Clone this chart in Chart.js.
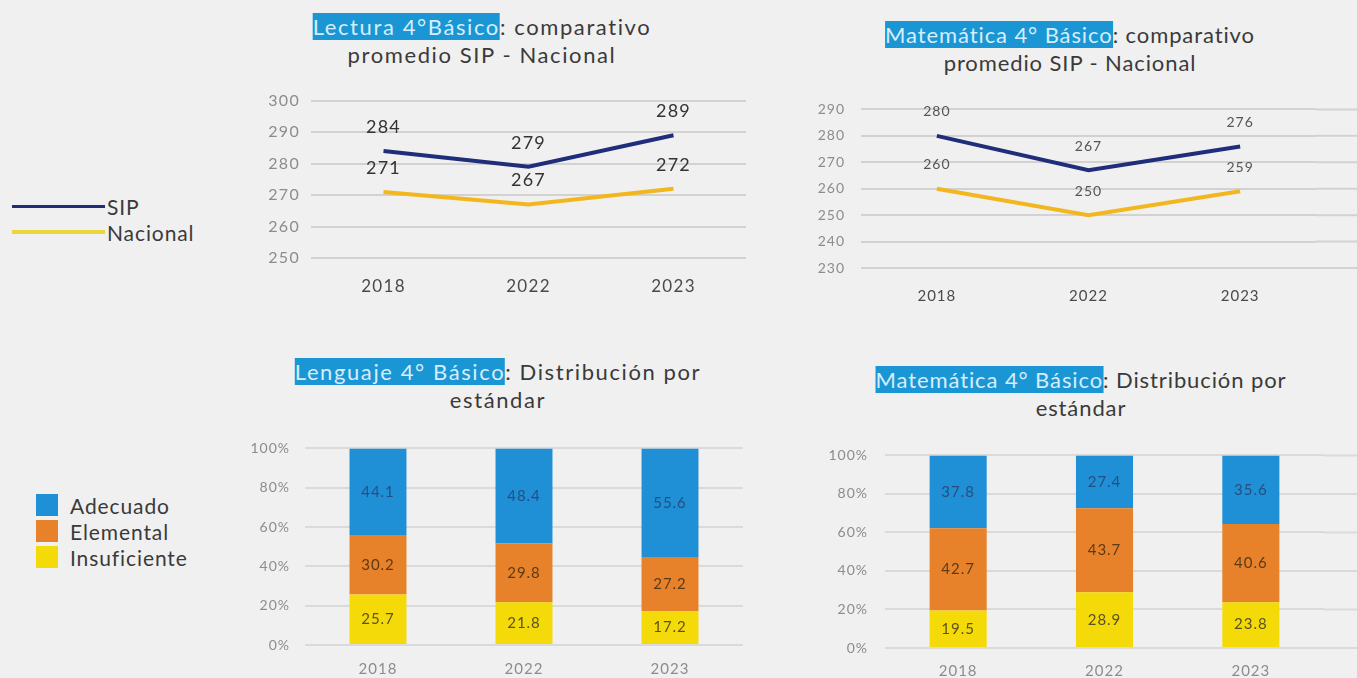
<!DOCTYPE html>
<html lang="es">
<head>
  <meta charset="UTF-8">
  <title>SIP 4° Básico - Resultados</title>
  <script src="https://cdn.jsdelivr.net/npm/chart.js"></script>
  <style>
    body {
      margin: 0;
      background: #f0f0f0;
      font-family: Lato, "Open Sans", sans-serif;
      color: #333;
    }
    .page {
      position: relative;
      width: 1357px;
      height: 678px;
      overflow: hidden;
    }
    .box { position: absolute; }
    .title {
      position: absolute;
      transform: translateX(-50%);
      text-align: center;
      font-size: 22px;
      letter-spacing: 1.6px;
      line-height: 28px;
      color: #3a3a3a;
      white-space: nowrap;
    }
    .title.tight { letter-spacing: 0.9px; }
    .hl { background: #1b96d4; color: #d6edfb; }
    .legend { position: absolute; font-size: 21px; letter-spacing: 0.9px; color: #3a3a3a; }
    .legend .row { display: flex; align-items: center; height: 26px; }
    .legend .line { width: 93px; margin-right: 2px; }
    .legend .sq { width: 22px; height: 22px; margin-right: 12px; }
  </style>
</head>
<body>
<div class="page">
  <!-- titles -->
  <div class="title" style="left:482px; top:13px;"><span class="hl">Lectura 4°Básico</span>: comparativo<br>promedio SIP - Nacional</div>
  <div class="title tight" style="left:1070px; top:21px;"><span class="hl">Matemática 4° Básico</span>: comparativo<br>promedio SIP - Nacional</div>
  <div class="title" style="left:498px; top:358px;"><span class="hl">Lenguaje 4° Básico</span>: Distribución por<br>estándar</div>
  <div class="title tight" style="left:1081px; top:366px;"><span class="hl">Matemática 4° Básico</span>: Distribución por<br>estándar</div>

  <!-- legends -->
  <div class="legend" style="left:12px; top:193px;">
    <div class="row"><div class="line" style="height:3px;background:#1f2d7b"></div>SIP</div>
    <div class="row"><div class="line" style="height:4px;background:#ecd63c"></div>Nacional</div>
  </div>
  <div class="legend" style="left:36px; top:492px;">
    <div class="row"><div class="sq" style="background:#1f8fd6"></div>Adecuado</div>
    <div class="row"><div class="sq" style="background:#e8822a"></div>Elemental</div>
    <div class="row"><div class="sq" style="background:#f5da0a"></div>Insuficiente</div>
  </div>

  <div class="box" style="left:240px; top:80px; width:510px; height:220px;"><canvas id="lectura"></canvas></div>
  <div class="box" style="left:790px; top:85px; width:567px; height:235px;"><canvas id="mateProm"></canvas></div>
  <div class="box" style="left:230px; top:425px; width:520px; height:253px;"><canvas id="lenguaje"></canvas></div>
  <div class="box" style="left:800px; top:430px; width:557px; height:248px;"><canvas id="mateDist"></canvas></div>
</div>

<script>
  // data
  const years = ['2018', '2022', '2023'];

  const lecturaSIP = [284, 279, 289];
  const lecturaNacional = [271, 267, 272];
  const mateSIP = [280, 267, 276];
  const mateNacional = [260, 250, 259];

  const lengAdecuado = [44.1, 48.4, 55.6];
  const lengElemental = [30.2, 29.8, 27.2];
  const lengInsuficiente = [25.7, 21.8, 17.2];

  const mateAdecuado = [37.8, 27.4, 35.6];
  const mateElemental = [42.7, 43.7, 40.6];
  const mateInsuficiente = [19.5, 28.9, 23.8];

  const NAVY = '#1f2d7b', GOLD = '#f2b61f';
  const BLUE = '#1f8fd6', ORANGE = '#e8822a', YELLOW = '#f5da0a';
  const GRID = '#d2d2d2';

  // wider lettering, the original font is much wider than Lato
  const spacing = {
    id: 'spacing',
    beforeDraw(chart, args, opts) {
      chart.ctx.letterSpacing = opts.px || '0px';
    }
  };

  // draws the numbers on the points / inside the bars
  const valueLabels = {
    id: 'valueLabels',
    afterDatasetsDraw(chart, args, opts) {
      const ctx = chart.ctx;
      const isBar = chart.config.type === 'bar';
      chart.data.datasets.forEach((ds, i) => {
        chart.getDatasetMeta(i).data.forEach((el, j) => {
          const y = isBar ? (el.y + el.base) / 2 : el.y - opts.offset;
          ctx.save();
          ctx.font = opts.font;
          ctx.fillStyle = ds.labelColor || opts.color;
          ctx.textAlign = 'center';
          ctx.textBaseline = 'middle';
          ctx.fillText(String(ds.data[j]), el.x, y);
          ctx.restore();
        });
      });
    }
  };

  // grid lines in the reference run on past the last category
  const gridExtend = {
    id: 'gridExtend',
    beforeDatasetsDraw(chart, args, opts) {
      if (!opts.to) return;
      const sy = chart.scales.y, ctx = chart.ctx;
      ctx.save();
      ctx.strokeStyle = opts.color || GRID;
      ctx.lineWidth = 2;
      sy.ticks.forEach(t => {
        const py = sy.getPixelForValue(t.value);
        ctx.beginPath();
        ctx.moveTo(chart.chartArea.right, py);
        ctx.lineTo(opts.to, py);
        ctx.stroke();
      });
      ctx.restore();
    }
  };

  function lineChart(id, sip, nac, min, max, dims, fonts) {
    return new Chart(document.getElementById(id), {
      type: 'line',
      data: {
        labels: years,
        datasets: [
          { label: 'SIP', data: sip, borderColor: NAVY, borderWidth: 4, pointRadius: 0, tension: 0 },
          { label: 'Nacional', data: nac, borderColor: GOLD, borderWidth: 4, pointRadius: 0, tension: 0 }
        ]
      },
      options: {
        responsive: true,
        maintainAspectRatio: false,
        animation: false,
        layout: { padding: { top: dims.top, right: dims.right, left: 0, bottom: 0 } },
        scales: {
          x: {
            offset: true,
            grid: { display: false, drawTicks: false },
            border: { display: false },
            ticks: { padding: dims.xPad, color: '#4a4a4a', font: { family: 'Lato', size: fonts.x } },
            afterFit(s) { s.height = dims.xH; }
          },
          y: {
            min: min, max: max,
            grid: { color: GRID, lineWidth: 2, drawTicks: false },
            border: { display: false },
            ticks: { stepSize: 10, padding: dims.yPad, color: '#8c8c8c', font: { family: 'Lato', size: fonts.y } },
            afterFit(s) { s.width = dims.yW; }
          }
        },
        plugins: {
          legend: { display: false },
          tooltip: { enabled: false },
          spacing: { px: fonts.spacing },
          valueLabels: { offset: 24, font: fonts.label, color: fonts.labelColor },
          gridExtend: { to: dims.extend }
        }
      },
      plugins: [spacing, gridExtend, valueLabels]
    });
  }

  function barChart(id, ade, ele, ins, dims) {
    return new Chart(document.getElementById(id), {
      type: 'bar',
      data: {
        labels: years,
        datasets: [
          { label: 'Insuficiente', data: ins, backgroundColor: YELLOW, labelColor: '#5a5220' },
          { label: 'Elemental', data: ele, backgroundColor: ORANGE, labelColor: '#5b3a17' },
          { label: 'Adecuado', data: ade, backgroundColor: BLUE, labelColor: '#264f80' }
        ]
      },
      options: {
        responsive: true,
        maintainAspectRatio: false,
        animation: false,
        layout: { padding: { top: dims.top, right: dims.right, left: 0, bottom: 0 } },
        datasets: { bar: { categoryPercentage: 1, barPercentage: 0.39 } },
        scales: {
          x: {
            stacked: true,
            grid: { display: false, drawTicks: false },
            border: { display: false },
            ticks: { padding: dims.xPad, color: '#8c8c8c', font: { family: 'Lato', size: 15 } },
            afterFit(s) { s.height = dims.xH; }
          },
          y: {
            stacked: true,
            min: 0, max: 100,
            grid: { color: '#dadada', lineWidth: 2, drawTicks: false },
            border: { display: false },
            ticks: { stepSize: 20, padding: dims.yPad, color: '#8c8c8c', font: { family: 'Lato', size: 14 },
                     callback: v => v + '%' },
            afterFit(s) { s.width = dims.yW; }
          }
        },
        plugins: {
          legend: { display: false },
          tooltip: { enabled: false },
          spacing: { px: '1px' },
          valueLabels: { font: '15px Lato', color: '#444' },
          gridExtend: { to: dims.extend, color: '#dadada' }
        }
      },
      plugins: [spacing, gridExtend, valueLabels]
    });
  }

  lineChart('lectura', lecturaSIP, lecturaNacional, 250, 300,
    { top: 15, right: 4, xH: 42, xPad: 18, yW: 71, yPad: 11, extend: 0 },
    { x: 17, y: 16, label: '18px Lato', labelColor: '#333', spacing: '1.3px' });

  lineChart('mateProm', mateSIP, mateNacional, 230, 290,
    { top: 19, right: 41, xH: 52, xPad: 19, yW: 71, yPad: 16, extend: 567 },
    { x: 15, y: 14, label: '14px Lato', labelColor: '#555', spacing: '1px' });

  barChart('lenguaje', lengAdecuado, lengElemental, lengInsuficiente,
    { top: 15, right: 7, xH: 33, xPad: 15, yW: 75, yPad: 15, extend: 0 });

  barChart('mateDist', mateAdecuado, mateElemental, mateInsuficiente,
    { top: 17, right: 33, xH: 30, xPad: 14, yW: 85, yPad: 17, extend: 557 });
</script>
</body>
</html>
